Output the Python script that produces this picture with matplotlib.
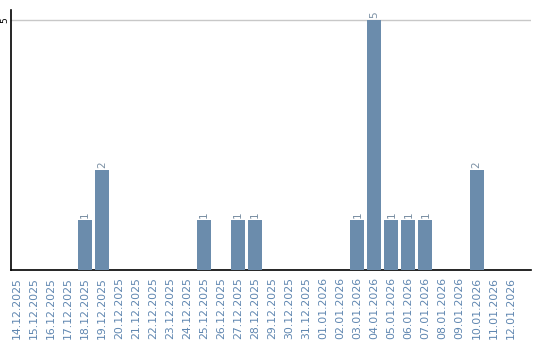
import matplotlib
matplotlib.use("Agg")
import matplotlib.pyplot as plt

dates = ["14.12.2025", "15.12.2025", "16.12.2025", "17.12.2025", "18.12.2025",
         "19.12.2025", "20.12.2025", "21.12.2025", "22.12.2025", "23.12.2025",
         "24.12.2025", "25.12.2025", "26.12.2025", "27.12.2025", "28.12.2025",
         "29.12.2025", "30.12.2025", "31.12.2025", "01.01.2026", "02.01.2026",
         "03.01.2026", "04.01.2026", "05.01.2026", "06.01.2026", "07.01.2026",
         "08.01.2026", "09.01.2026", "10.01.2026", "11.01.2026", "12.01.2026"]
counts = [0, 0, 0, 0, 1, 2, 0, 0, 0, 0,
          0, 1, 0, 1, 1, 0, 0, 0, 0, 0,
          1, 5, 1, 1, 1, 0, 0, 2, 0, 0]

bar_color = "#6b8cac"
label_color = "#5f86b0"

fig = plt.figure(figsize=(5.4, 3.4), dpi=100)
ax = fig.add_axes([11/540, 70/340, 520/540, 260/340])

x = list(range(len(dates)))
ax.bar(x, counts, width=0.82, color=bar_color, zorder=3)
for xi, c in zip(x, counts):
    if c > 0:
        ax.text(xi, c + 0.05, str(c), rotation=90, ha="center", va="bottom",
                fontsize=7.5, color="#7a8fa3", zorder=4)

ax.set_xlim(-0.35, 30.2)
ax.set_ylim(0, 5.2)
ax.set_yticks([5])
ax.set_yticklabels(["5"], rotation=90, va="center", fontsize=6.5)
ax.yaxis.grid(True, color="#c8c8c8", linewidth=1, zorder=0)
ax.set_xticks(x)
ax.set_xticklabels(dates, rotation=90, fontsize=7.8, color=label_color)
ax.tick_params(axis="x", length=0, pad=5)
ax.tick_params(axis="y", length=0, pad=1)
for s in ["top", "right"]:
    ax.spines[s].set_visible(False)
ax.spines["left"].set_linewidth(1.2)
ax.spines["bottom"].set_linewidth(1.2)

fig.savefig("out.png", dpi=100)
